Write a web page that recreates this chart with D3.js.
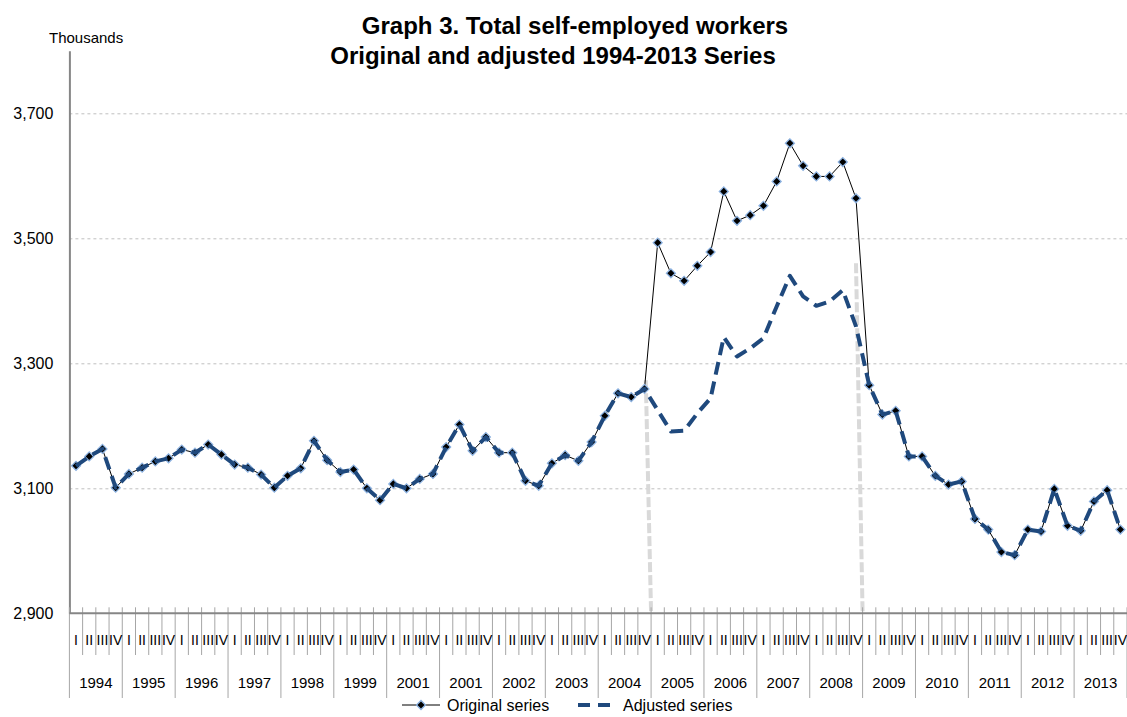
<!DOCTYPE html>
<html>
<head>
<meta charset="utf-8">
<script src="https://cdn.jsdelivr.net/npm/d3@7"></script>
<style>
  body { margin: 0; background: #fff; }
  text { font-family: "Liberation Sans", Arial, sans-serif; fill: #000; }
</style>
</head>
<body>
<script>
// chart data (thousands of people)
var years = ['1994', '1995', '1996', '1997', '1998', '1999', '2001', '2001', '2002', '2003',
             '2004', '2005', '2006', '2007', '2008', '2009', '2010', '2011', '2012', '2013'];
var quarters = ['I', 'II', 'III', 'IV'];

var original = [3136, 3151, 3163, 3101, 3123, 3133, 3143, 3148, 3162, 3157,
                3170, 3154, 3138, 3133, 3122, 3101, 3120, 3132, 3176, 3145,
                3126, 3130, 3100, 3081, 3107, 3100, 3115, 3123, 3166, 3202,
                3160, 3182, 3157, 3157, 3112, 3104, 3140, 3153, 3144, 3174,
                3216, 3252, 3246, 3259, 3493, 3444, 3432, 3456, 3478, 3575,
                3528, 3537, 3552, 3591, 3652, 3616, 3599, 3599, 3622, 3564,
                3265, 3218, 3224, 3151, 3151, 3120, 3106, 3111, 3051, 3034,
                2998, 2993, 3034, 3031, 3099, 3040, 3032, 3079, 3097, 3034];

var adjusted = [3136, 3151, 3163, 3101, 3123, 3133, 3143, 3148, 3162, 3157,
                3170, 3154, 3138, 3133, 3122, 3101, 3120, 3132, 3176, 3145,
                3126, 3130, 3100, 3081, 3107, 3100, 3115, 3123, 3166, 3202,
                3160, 3182, 3157, 3157, 3112, 3104, 3140, 3153, 3144, 3174,
                3216, 3252, 3246, 3259, 3225, 3191, 3192, 3220, 3244, 3342,
                3311, 3324, 3340, 3391, 3440, 3407, 3392, 3399, 3417, 3359,
                3265, 3218, 3224, 3151, 3151, 3120, 3106, 3111, 3051, 3034,
                2998, 2993, 3034, 3031, 3099, 3040, 3032, 3079, 3097, 3034];

var yTicks = [2900, 3100, 3300, 3500, 3700];

// series breaks (grey dashed markers): quarter boundary and the value at the top
var breaks = [{from: 43.6, to: 44, top: 3273}, {from: 59.5, to: 60, top: 3460}];

var svg = d3.select('body').append('svg')
svg.attr('width', 1127).attr('height', 717);

var x = d3.scaleLinear().domain([0, 80]).range([69.4, 1127]);
var y = d3.scaleLinear().domain([2900, 3800]).range([613.3, 50.8]);
var n = original.length;

// title
svg.append('text').attr('x', 575).attr('y', 34).attr('text-anchor', 'middle')
  .style('font-size', '24px').style('font-weight', 'bold')
  .text('Graph 3. Total self-employed workers');
svg.append('text').attr('x', 553).attr('y', 64).attr('text-anchor', 'middle')
  .style('font-size', '24px').style('font-weight', 'bold')
  .text('Original and adjusted 1994-2013 Series');

svg.append('text').attr('x', 49).attr('y', 43).style('font-size', '15px').text('Thousands');

// gridlines
svg.append('g').attr('class', 'grid')
  .attr('transform', 'translate(' + x(0) + ',0)')
  .call(d3.axisLeft(y).tickValues(yTicks.slice(1)).tickSize(-(x(80) - x(0))).tickFormat(''))
  .call(function(g) { g.select('.domain').remove(); })
  .selectAll('line').attr('stroke', '#bfbfbf').attr('stroke-dasharray', '3,3');

// y axis
var yAxis = svg.append('g')
  .attr('transform', 'translate(' + x(0) + ',0)')
  .call(d3.axisLeft(y).tickValues(yTicks).tickSize(0).tickSizeOuter(0).tickPadding(16).tickFormat(d3.format(',')));
yAxis.select('.domain').attr('stroke', '#868686').attr('stroke-width', 2);
yAxis.selectAll('text').style('font-size', '16px').style('font-family', '"Liberation Sans", Arial, sans-serif');

// break markers
svg.selectAll('line.break').data(breaks).enter().append('line')
  .attr('class', 'break')
  .attr('x1', function(d) { return x(d.from); })
  .attr('x2', function(d) { return x(d.to); })
  .attr('y1', function(d) { return y(d.top); })
  .attr('y2', y(2900))
  .attr('stroke', '#d9d9d9').attr('stroke-width', 4).attr('stroke-dasharray', '10,3');

// x axis: quarter / year separators
var bounds = d3.range(n + 1);
svg.selectAll('line.sep').data(bounds).enter().append('line')
  .attr('class', 'sep')
  .attr('x1', function(d) { return x(d); })
  .attr('x2', function(d) { return x(d); })
  .attr('y1', y(2900) - 6)
  .attr('y2', function(d) { return d % 4 === 0 ? 698 : 655; })
  .attr('stroke', '#a6a6a6').attr('stroke-width', 1);

svg.append('line')
  .attr('x1', x(0)).attr('x2', x(80)).attr('y1', y(2900)).attr('y2', y(2900))
  .attr('stroke', '#868686').attr('stroke-width', 2);

svg.selectAll('text.q').data(d3.range(n)).enter().append('text')
  .attr('class', 'q')
  .attr('x', function(d) { return x(d + 0.5); })
  .attr('y', 645)
  .attr('text-anchor', 'middle')
  .style('font-size', '14px')
  .text(function(d) { return quarters[d % 4]; });

svg.selectAll('text.yr').data(years).enter().append('text')
  .attr('class', 'yr')
  .attr('x', function(d, i) { return x(i * 4 + 2); })
  .attr('y', 688)
  .attr('text-anchor', 'middle')
  .style('font-size', '15px')
  .text(function(d) { return d; });

// lines
var line = function(vals) {
  return d3.line()
    .x(function(d, i) { return x(i + 0.5); })
    .y(function(d) { return y(d); })(vals);
};

svg.append('path').attr('d', line(original))
  .attr('fill', 'none').attr('stroke', '#000').attr('stroke-width', 1);

var diamond = d3.symbol().type(d3.symbolSquare).size(40);
svg.selectAll('path.mk').data(original).enter().append('path')
  .attr('class', 'mk')
  .attr('d', diamond)
  .attr('transform', function(d, i) { return 'translate(' + x(i + 0.5) + ',' + y(d) + ') rotate(45)'; })
  .attr('fill', '#000').attr('stroke', '#8db3e2').attr('stroke-width', 1.3);

svg.append('path').attr('d', line(adjusted))
  .attr('fill', 'none').attr('stroke', '#1f497d').attr('stroke-width', 4)
  .attr('stroke-dasharray', '13,7').attr('stroke-linejoin', 'round');

// legend
var leg = svg.append('g');
leg.append('line').attr('x1', 402).attr('x2', 440).attr('y1', 705).attr('y2', 705)
  .attr('stroke', '#000').attr('stroke-width', 1);
leg.append('path').attr('d', diamond).attr('transform', 'translate(421,705) rotate(45)')
  .attr('fill', '#000').attr('stroke', '#8db3e2').attr('stroke-width', 1.3);
leg.append('text').attr('x', 447).attr('y', 711).style('font-size', '16px').text('Original series');
leg.append('line').attr('x1', 578).attr('x2', 611).attr('y1', 705).attr('y2', 705)
  .attr('stroke', '#1f497d').attr('stroke-width', 4).attr('stroke-dasharray', '12,8');
leg.append('text').attr('x', 623).attr('y', 711).style('font-size', '16px').text('Adjusted series');
</script>
</body>
</html>
